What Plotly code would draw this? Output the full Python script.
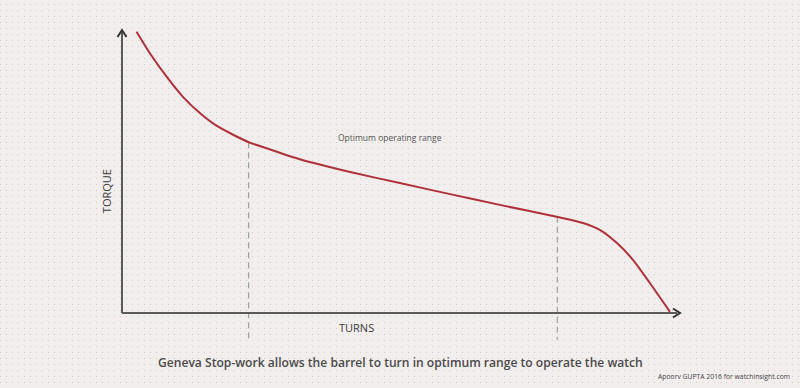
import plotly.graph_objects as go

# Data (turns vs torque, arbitrary units)
turns = [0.26, 0.50, 0.80, 1.10, 1.40, 1.70, 2.00, 2.29, 2.59, 3.19, 4.09, 4.98, 5.88, 6.77, 7.81, 8.26, 8.57, 8.87, 9.16, 9.46, 9.82]
torque = [9.94, 9.18, 8.35, 7.62, 7.06, 6.61, 6.29, 6.02, 5.82, 5.43, 4.98, 4.59, 4.20, 3.82, 3.39, 3.18, 2.93, 2.47, 1.87, 1.06, 0.04]
range_start = 2.27
range_end = 7.80
range_start_torque = 6.03
range_end_torque = 3.40

W, H = 800, 388
BG = "#f3eeee"
AXIS = "#5a5a5a"

# pixel geometry of the main axes
PX_X0, PX_X10 = 122, 680      # x = 0 and x = 10
PX_Y0, PX_Y10 = 313, 30       # y = 0 and y = 10
sx = (PX_X10 - PX_X0) / 10
sy = (PX_Y0 - PX_Y10) / 10
XR = [-0.5, 10.2]
YR = [-1.0, 10.3]
xdom = [(PX_X0 + XR[0] * sx) / W, (PX_X0 + XR[1] * sx) / W]
ydom = [(H - (PX_Y0 - YR[0] * sy)) / H, (H - (PX_Y0 - YR[1] * sy)) / H]

fig = go.Figure()

# background dot-grid subplot (x/y)
fig.add_trace(go.Scatter(x=[0], y=[0], mode="markers", marker=dict(opacity=0), hoverinfo="skip",
                         showlegend=False, xaxis="x", yaxis="y"))

# main curve on x2/y2
fig.add_trace(go.Scatter(x=turns, y=torque, mode="lines", line=dict(color="#b0303a", width=2, shape="spline", smoothing=0.6),
                         showlegend=False, hoverinfo="skip", xaxis="x2", yaxis="y2"))

shapes = []
# dashed range lines
for xv, yv in [(range_start, range_start_torque), (range_end, range_end_torque)]:
    shapes.append(dict(type="line", xref="x2", yref="y2", x0=xv, x1=xv, y0=yv, y1=-0.95,
                       line=dict(color="#8f8f8f", width=1, dash="6px,4px"), layer="below"))
# axes lines
shapes.append(dict(type="line", xref="x2", yref="y2", x0=0, x1=0, y0=0, y1=9.97, line=dict(color=AXIS, width=2)))
shapes.append(dict(type="line", xref="x2", yref="y2", x0=0, x1=9.95, y0=0, y1=0, line=dict(color=AXIS, width=2)))
# arrow heads
shapes.append(dict(type="path", xref="x2", yref="y2", xsizemode="pixel", ysizemode="pixel",
                   xanchor=0, yanchor=10, path="M-4.5,-7 L0,0 L4.5,-7", line=dict(color="#333", width=2)))
shapes.append(dict(type="path", xref="x2", yref="y2", xsizemode="pixel", ysizemode="pixel",
                   xanchor=10, yanchor=0, path="M-7,4.5 L0,0 L-7,-4.5", line=dict(color="#333", width=2)))

FONT = "Open Sans"
annotations = [
    dict(text="TORQUE", xref="x2", yref="y2", x=-0.29, y=4.3, textangle=-90, showarrow=False,
         font=dict(family=FONT, size=11, color="#3a3a3a"), xanchor="center", yanchor="middle"),
    dict(text="TURNS", xref="x2", yref="y2", x=4.21, y=-0.5, showarrow=False,
         font=dict(family=FONT, size=11, color="#3a3a3a"), xanchor="center", yanchor="middle"),
    dict(text="Optimum operating range", xref="x2", yref="y2", x=4.8, y=6.2, showarrow=False,
         font=dict(family=FONT, size=8.5, color="#555"), xanchor="center", yanchor="middle"),
    dict(text="Geneva Stop-work allows the barrel to turn in optimum range to operate the watch",
         xref="paper", yref="paper", x=0.5, y=1 - 362 / H, showarrow=False,
         font=dict(family=FONT, size=12.1, color="#4a4a4a", weight=600), xanchor="center", yanchor="middle"),
    dict(text="Apoorv GUPTA 2016 for watchinsight.com", xref="paper", yref="paper", x=792 / W, y=1 - 376 / H,
         showarrow=False, font=dict(family=FONT, size=6.8, color="#444"), xanchor="right", yanchor="middle"),
]

fig.update_layout(
    width=W, height=H, margin=dict(l=0, r=0, t=0, b=0),
    paper_bgcolor=BG, plot_bgcolor="rgba(0,0,0,0)",
    xaxis=dict(domain=[0, 1], range=[0, W], showgrid=False, zeroline=False, showticklabels=False, ticks="", fixedrange=True),
    yaxis=dict(domain=[0, 1], range=[0, H], dtick=6, showgrid=True, gridcolor="#d6cbcb", gridwidth=1,
               griddash="1px,5px", zeroline=False, showticklabels=False, ticks=""),
    xaxis2=dict(domain=xdom, range=XR, anchor="y2", visible=False),
    yaxis2=dict(domain=ydom, range=YR, anchor="x2", visible=False),
    shapes=shapes, annotations=annotations,
)

fig.write_html("out.html", config={"displayModeBar": False},
               post_script="document.body.style.margin='0';document.body.style.overflow='hidden';")
